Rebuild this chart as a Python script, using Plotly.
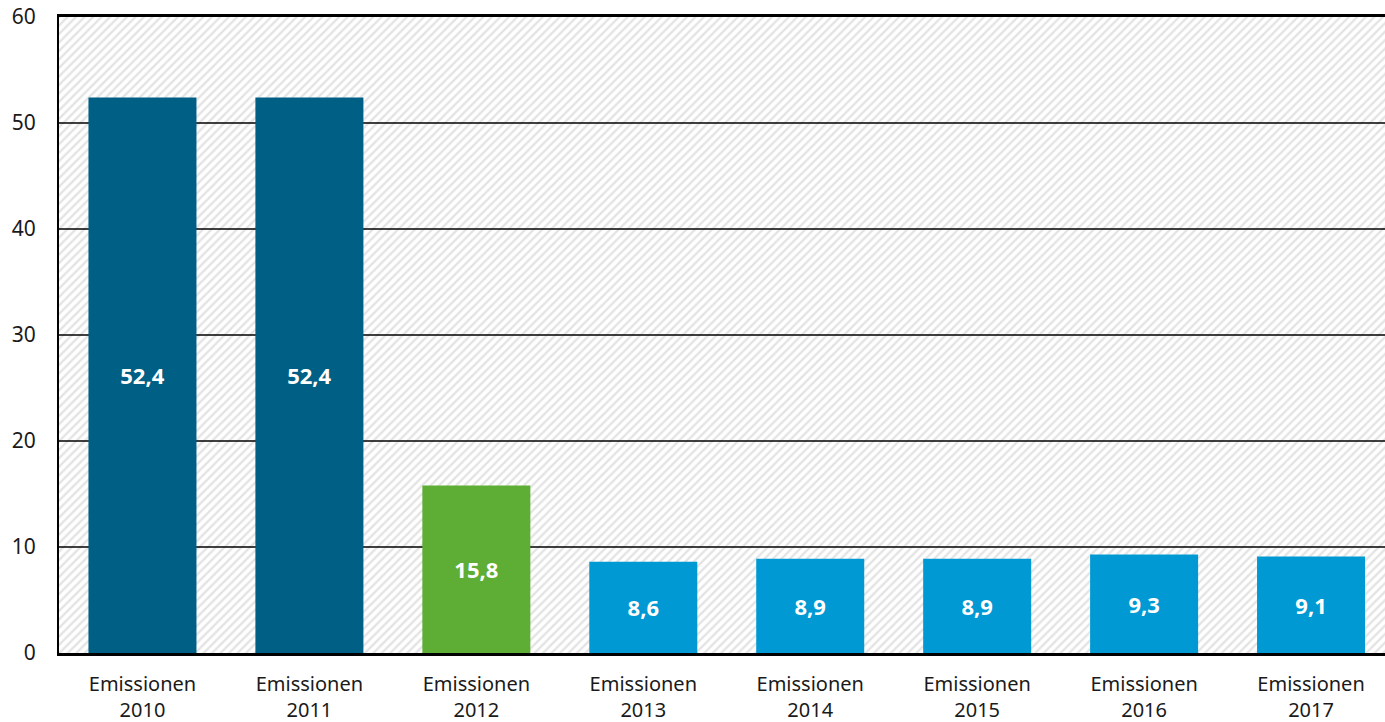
import plotly.graph_objects as go

categories = ["Emissionen<br>2010", "Emissionen<br>2011", "Emissionen<br>2012", "Emissionen<br>2013",
              "Emissionen<br>2014", "Emissionen<br>2015", "Emissionen<br>2016", "Emissionen<br>2017"]
values = [52.4, 52.4, 15.8, 8.6, 8.9, 8.9, 9.3, 9.1]
labels = ["52,4", "52,4", "15,8", "8,6", "8,9", "8,9", "9,3", "9,1"]
bar_colors = ["#005F84", "#005F84", "#5EAD35", "#0099D3", "#0099D3", "#0099D3", "#0099D3", "#0099D3"]
y_ticks = [0, 10, 20, 30, 40, 50, 60]

FONT = "Noto Sans"
x_range = [-0.5, 7.443]
y_range = [0, 60]

fig = go.Figure()

# hatched background of plot area
fig.add_trace(go.Scatter(
    x=[x_range[0], x_range[1] + 1, x_range[1] + 1, x_range[0], x_range[0]],
    y=[y_range[0], y_range[0], y_range[1], y_range[1], y_range[0]],
    fill="toself", mode="none",
    fillpattern=dict(shape="/", fgcolor="#c8c8c8", bgcolor="white", size=6, solidity=0.4),
    hoverinfo="skip", showlegend=False, xaxis="x", yaxis="y",
))

# gridlines above hatch
gx, gy = [], []
for t in y_ticks[1:-1]:
    gx += [x_range[0], x_range[1] + 1, None]
    gy += [t, t, None]
fig.add_trace(go.Scatter(x=gx, y=gy, mode="lines", line=dict(color="black", width=1.3),
                         hoverinfo="skip", showlegend=False, xaxis="x", yaxis="y"))

# bars on overlay axes
fig.add_trace(go.Bar(
    x=categories, y=values, text=labels, marker=dict(color=bar_colors, line=dict(width=0)),
    width=0.647, textposition="inside", insidetextanchor="middle",
    textfont=dict(family=FONT, size=22, color="white", weight="bold"),
    showlegend=False, hoverinfo="skip", xaxis="x2", yaxis="y2",
))

fig.update_layout(
    width=1385, height=722,
    margin=dict(l=59, r=0, t=17, b=69, autoexpand=False),
    paper_bgcolor="white", plot_bgcolor="white",
    font=dict(family=FONT, size=20, color="#1a1a1a"),
    xaxis=dict(range=x_range, showticklabels=False, showgrid=False, zeroline=False, automargin=False,
               showline=True, linecolor="black", linewidth=2.5, mirror=True, ticks=""),
    yaxis=dict(range=y_range, tickvals=y_ticks, showgrid=False, zeroline=False, automargin=False,
               showline=True, linecolor="black", linewidth=2, ticks="", ticklabeloverflow="allow",
               ticklabelstandoff=17, tickfont=dict(size=21)),
    xaxis2=dict(overlaying="x", range=x_range, type="category", showgrid=False, zeroline=False,
                automargin=False, showline=False, ticks="", ticklabelstandoff=17, ticklabeloverflow="allow",
                tickfont=dict(size=20)),
    yaxis2=dict(overlaying="y", range=y_range, showgrid=False, zeroline=False, automargin=False,
                showline=False, showticklabels=False, ticks=""),
)

fig.write_html("out.html", config={"displayModeBar": False},
               post_script="document.body.style.margin='0';document.body.style.overflow='hidden';")
